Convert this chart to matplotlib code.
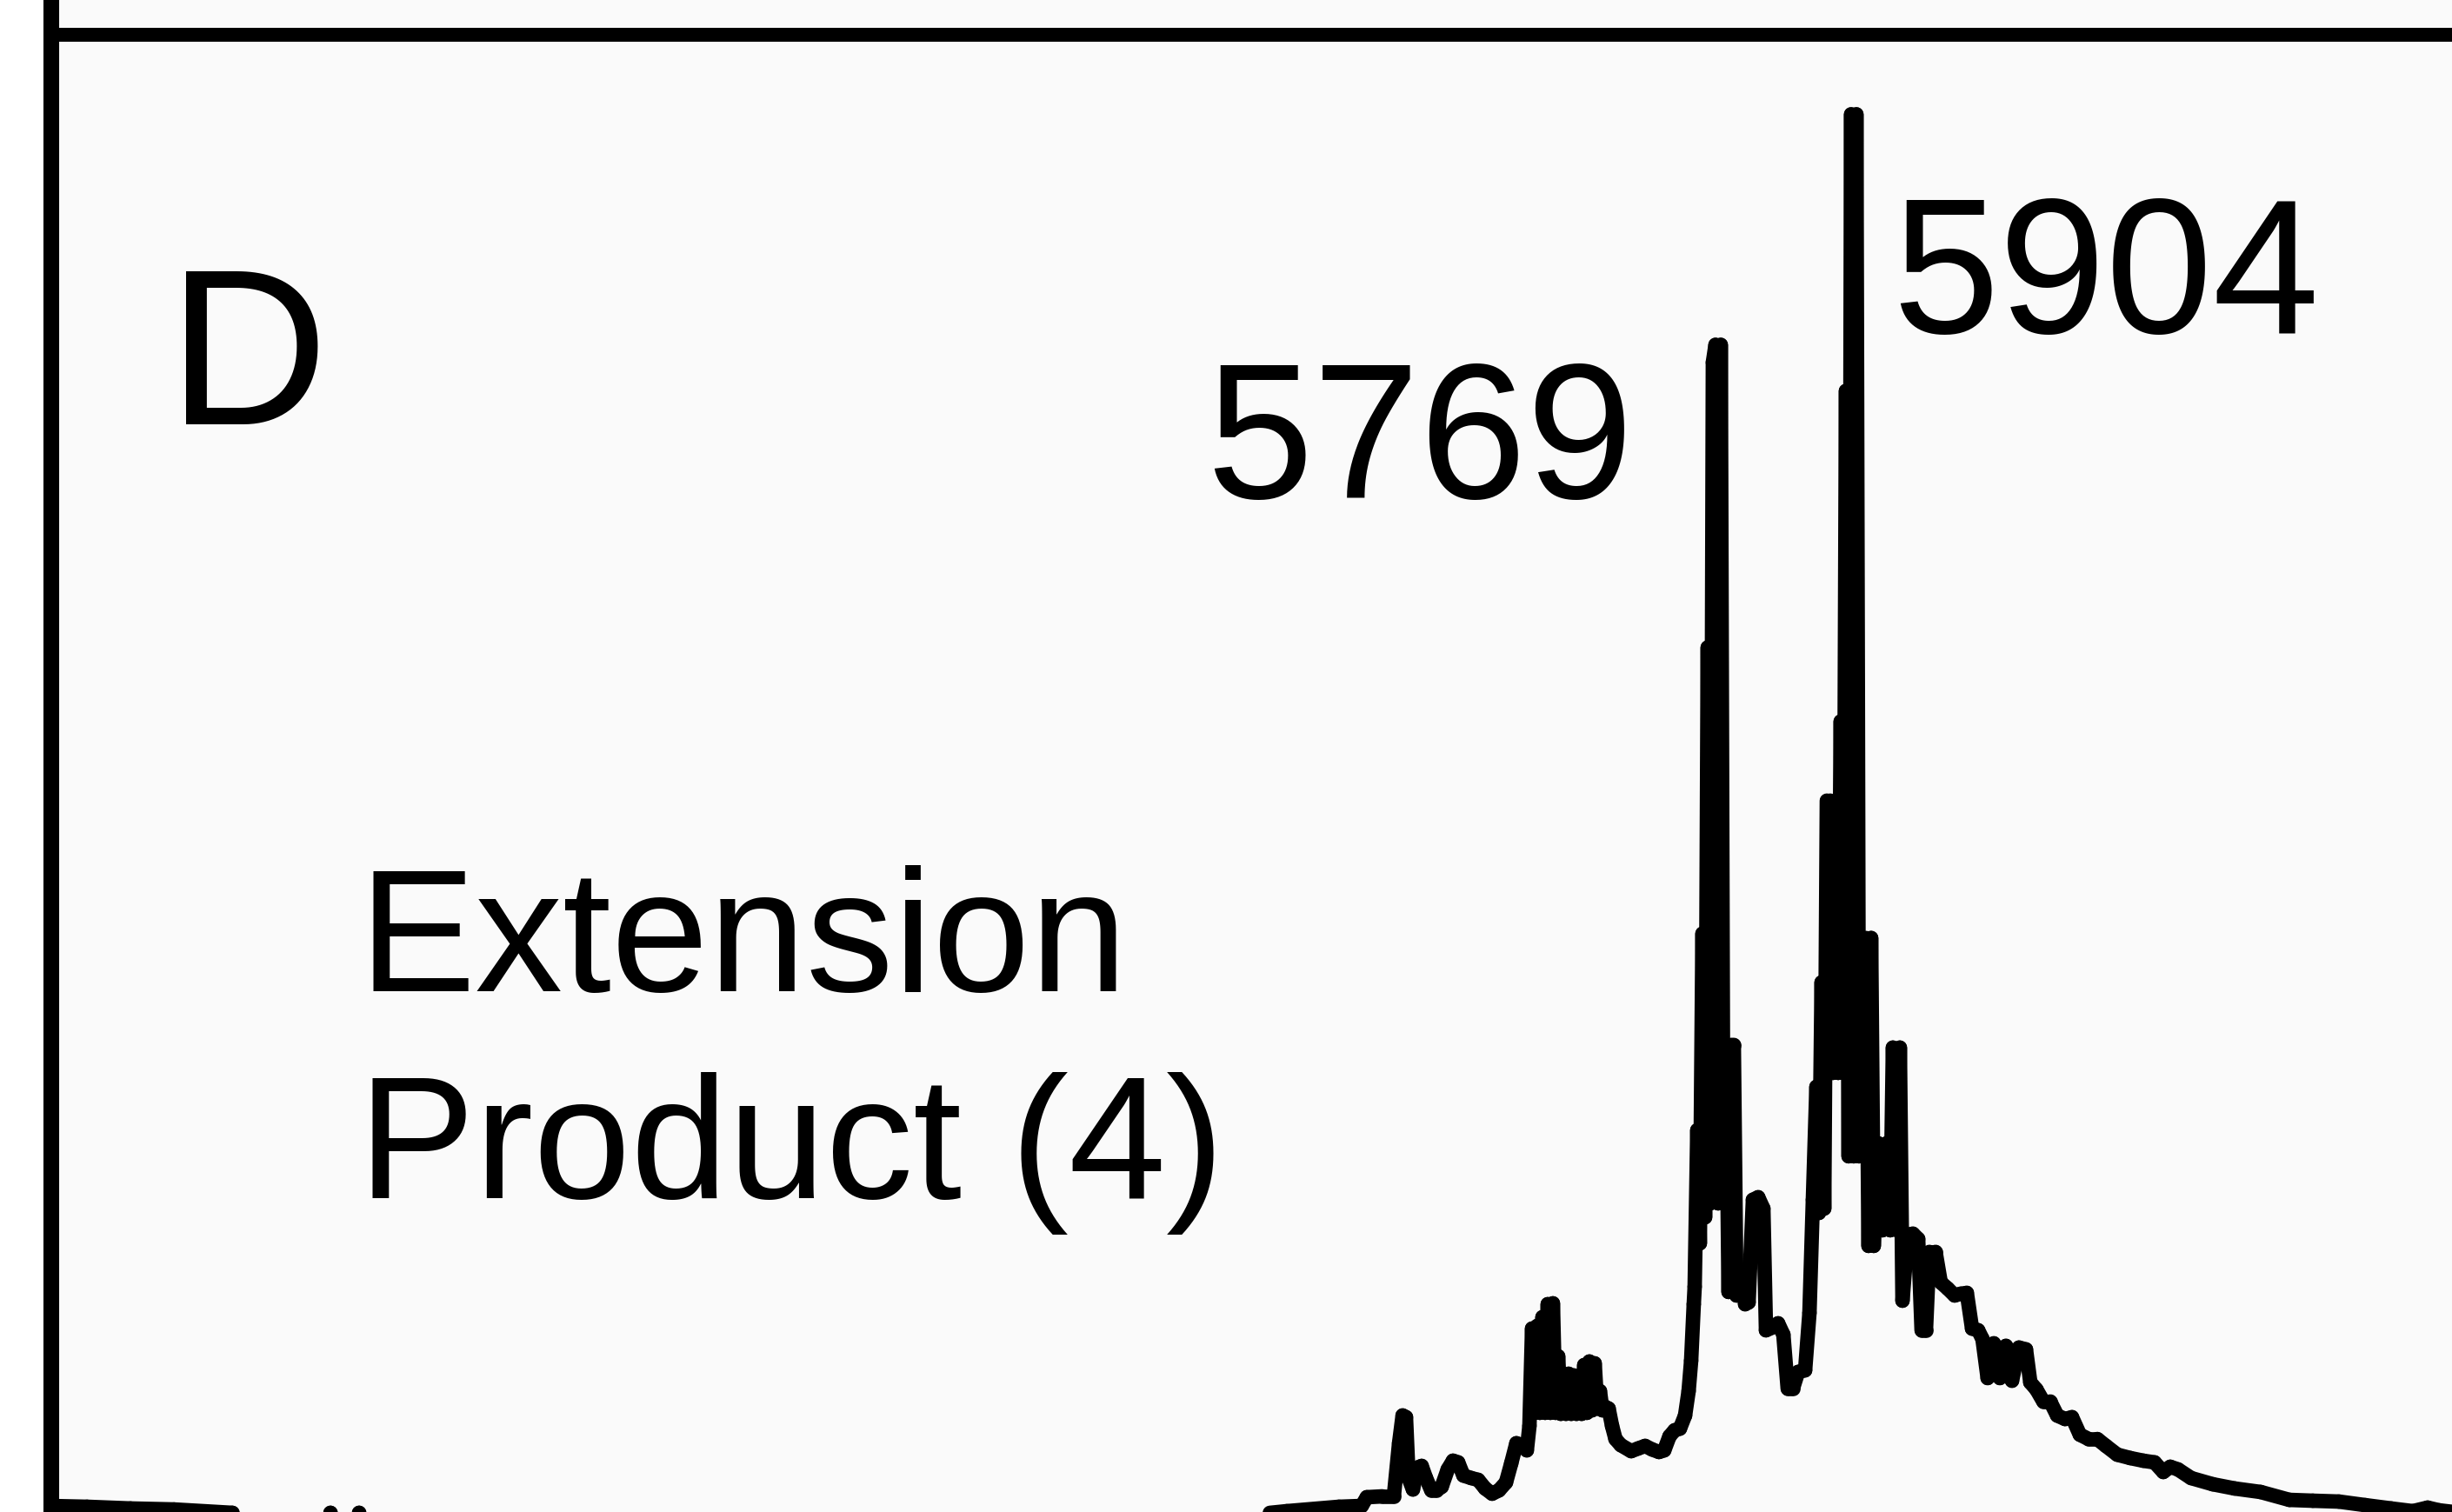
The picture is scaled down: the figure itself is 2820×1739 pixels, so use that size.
import numpy as np
import matplotlib
matplotlib.use("Agg")
import matplotlib.pyplot as plt
from matplotlib.collections import LineCollection

# Spectrum trace, m/z vs relative intensity (%), split in sections
# baseline and the small peaks left of the main cluster
LOW_MZ = [
    4118.0, 4156.0, 4199.0, 4242.0, 4299.6, 4345.2, 4379.6, 4396.8, 4409.7, 4425.1,
    4439.7, 4500.0, 4551.5, 4758.0, 5016.0, 5231.0, 5308.0, 5342.5, 5394.0, 5416.5,
    5421.6, 5437.0, 5448.3, 5453.5, 5457.0, 5460.3, 5462.9, 5467.2, 5471.5, 5475.8,
    5480.1, 5485.3, 5490.4, 5495.6, 5501.6, 5506.8, 5511.9, 5517.1, 5524.8, 5531.7,
    5538.6, 5545.5, 5552.3, 5559.2, 5564.4,
]
LOW_INT = [
    1.11, 1.05, 0.93, 0.86, 0.62, 0.37, 0.25, 0.62, 0.25, 0.62,
    0.25, 0.37, 0.12, 0.0, 0.0, 0.0, 0.49, 0.74, 1.05, 1.11,
    1.73, 1.79, 1.79, 5.56, 7.53, 7.41, 3.09, 2.28, 3.83, 3.95,
    3.09, 2.22, 2.22, 2.47, 3.70, 4.32, 4.20, 3.27, 3.09, 2.96,
    2.35, 1.98, 2.22, 2.78, 4.14,
]

# cluster around m/z 5600 and the rise towards 5769
CLUSTER_MZ = [
    5569.5, 5574.7, 5579.8, 5582.4, 5585.0, 5587.6, 5590.2, 5592.7, 5595.3, 5597.9,
    5600.5, 5603.1, 5605.6, 5608.2, 5610.8, 5613.4, 5616.0, 5618.5, 5621.1, 5623.7,
    5626.3, 5628.9, 5631.4, 5634.0, 5636.6, 5639.2, 5641.7, 5644.3, 5646.9, 5649.5,
    5652.1, 5654.6, 5657.2, 5660.7, 5664.1, 5667.5, 5672.7, 5683.0, 5689.9, 5696.8,
    5703.7, 5710.5, 5715.7, 5720.9, 5726.0, 5731.2, 5736.3, 5739.8, 5742.3, 5744.9,
]
CLUSTER_INT = [
    5.56, 5.43, 5.06, 6.79, 13.70, 7.72, 13.89, 7.72, 14.51, 7.72,
    15.43, 7.72, 15.49, 7.72, 11.73, 7.65, 10.49, 7.65, 10.49, 7.65,
    10.37, 7.65, 9.26, 7.65, 11.11, 7.72, 11.36, 7.90, 11.23, 8.02,
    9.26, 7.90, 8.15, 8.02, 6.79, 5.86, 5.43, 5.00, 5.19, 5.37,
    5.12, 4.94, 5.06, 6.05, 6.48, 6.60, 7.53, 9.26, 11.42, 15.43,
]

# peak at m/z 5769
P5769_MZ = [
    5745.8, 5748.4, 5750.9, 5753.5, 5756.1, 5758.7, 5761.3, 5763.8, 5766.4, 5769.0,
    5771.6, 5774.2, 5776.7, 5779.3, 5781.9, 5784.5, 5787.1, 5792.2, 5795.7, 5799.1,
    5803.4, 5808.6, 5813.7, 5816.3, 5822.3, 5828.3, 5833.5, 5837.8, 5842.9, 5848.1,
]
P5769_INT = [
    16.67, 27.78, 19.75, 41.73, 21.60, 62.04, 22.59, 82.28, 83.52, 22.59,
    83.52, 22.59, 33.83, 16.30, 33.83, 33.83, 16.05, 17.28, 15.43, 15.56,
    22.84, 23.02, 22.22, 13.58, 13.77, 14.07, 13.27, 9.44, 9.44, 10.62,
]

# peak at m/z 5904 with its shoulders
P5904_MZ = [
    5855.0, 5859.3, 5862.7, 5866.2, 5868.7, 5871.3, 5873.9, 5876.5, 5879.9, 5882.5,
    5885.1, 5887.7, 5890.2, 5892.8, 5895.4, 5898.0, 5900.5, 5903.1, 5905.7, 5908.3,
    5910.9, 5915.2, 5917.7, 5920.3, 5922.9, 5927.2, 5931.5, 5935.8, 5939.2, 5941.8,
    5946.1, 5948.7, 5951.3, 5956.4, 5961.6, 5966.8, 5970.2, 5974.5, 5977.9, 5984.0,
]
P5904_INT = [
    10.74, 14.81, 22.84, 30.86, 21.91, 38.27, 22.22, 51.17, 51.17, 31.85,
    50.62, 31.85, 56.79, 31.85, 80.25, 25.93, 99.88, 25.93, 99.88, 25.93,
    41.42, 41.42, 19.57, 41.42, 19.57, 26.85, 20.68, 26.85, 20.68, 33.64,
    20.68, 33.64, 15.68, 20.37, 20.43, 20.06, 13.58, 13.58, 19.14, 19.14,
]

# decaying tail on the high-mass side
TAIL_MZ = [
    5989.1, 5996.0, 6002.9, 6008.9, 6014.9, 6020.1, 6026.1, 6030.4, 6035.5, 6041.6,
    6047.6, 6053.6, 6059.6, 6066.5, 6073.4, 6077.7, 6083.7, 6090.6, 6097.4, 6104.3,
    6112.1, 6118.9, 6126.7, 6135.3, 6143.9, 6152.5, 6163.7, 6176.5, 6189.4, 6200.6,
    6209.2, 6216.1, 6223.8, 6236.7, 6258.2, 6279.7, 6305.5, 6333.9, 6357.1, 6382.9,
    6408.7, 6434.5, 6456.0, 6470.6, 6481.8, 6503.3,
]
TAIL_INT = [
    16.98, 16.54, 16.05, 16.17, 16.23, 13.70, 13.58, 12.96, 10.19, 12.65,
    10.19, 12.47, 10.00, 12.35, 12.22, 9.88, 9.38, 8.52, 8.52, 7.53,
    7.28, 7.41, 6.17, 5.86, 5.86, 5.37, 4.75, 4.51, 4.32, 4.20,
    3.52, 3.89, 3.70, 3.09, 2.65, 2.35, 2.10, 1.54, 1.48, 1.42,
    1.17, 0.93, 0.74, 0.99, 0.80, 0.62,
]

# Peak labels: (text, m/z anchor, intensity anchor, alignment)
PEAK_LABELS = [
    ("5769", 5685.6, 72.65, "right"),
    ("5904", 5941.0, 84.38, "left"),
]
PANEL_LETTER = "D"
SAMPLE_LINES = ["Extension", "Product (4)"]

X_RANGE = (4120.7, 6494.7)
Y_RANGE = (0.68, 108.0)

FONT = ["Liberation Sans", "DejaVu Sans"]
BG = "#fafafa"


def build_trace():
    mz = np.concatenate([LOW_MZ, CLUSTER_MZ, P5769_MZ, P5904_MZ, TAIL_MZ])
    inten = np.concatenate([LOW_INT, CLUSTER_INT, P5769_INT, P5904_INT, TAIL_INT])
    return mz, inten


def main():
    mz, inten = build_trace()

    fig = plt.figure(figsize=(28.2, 17.39), dpi=100, facecolor="white")
    ax = fig.add_axes([59 / 2820, 0.0, 1 - 59 / 2820, 1.0])
    ax.set_facecolor(BG)

    # one segment per data step so the dense peaks come out solid
    points = np.column_stack([mz, inten])
    segments = np.stack([points[:-1], points[1:]], axis=1)
    trace = LineCollection(segments, colors="black", linewidths=12,
                           capstyle="round", joinstyle="round", zorder=3)
    ax.add_collection(trace)

    ax.set_xlim(*X_RANGE)
    ax.set_ylim(*Y_RANGE)
    ax.set_xticks([])
    ax.set_yticks([])

    for side in ["top", "right", "bottom"]:
        ax.spines[side].set_visible(False)
    ax.spines["left"].set_linewidth(13)
    ax.spines["left"].set_color("black")

    # frame line across the top of the panel
    ax.plot([0, 1], [0.977, 0.977], transform=ax.transAxes, color="black",
            linewidth=11.5, solid_capstyle="butt", clip_on=False, zorder=4)

    ax.text(0.0486, 0.7194, PANEL_LETTER, transform=ax.transAxes,
            fontsize=184, family=FONT, va="baseline", ha="left")

    for label, x, y, align in PEAK_LABELS:
        ax.text(x, y, label, fontsize=159, family=FONT,
                va="baseline", ha=align)

    ax.text(0.1279, 0.3445, SAMPLE_LINES[0], transform=ax.transAxes,
            fontsize=145, family=FONT, va="baseline", ha="left")
    ax.text(0.1279, 0.2076, SAMPLE_LINES[1], transform=ax.transAxes,
            fontsize=145, family=FONT, va="baseline", ha="left")

    fig.savefig("out.png", dpi=100, facecolor=fig.get_facecolor())
    plt.close(fig)


if __name__ == "__main__":
    main()
